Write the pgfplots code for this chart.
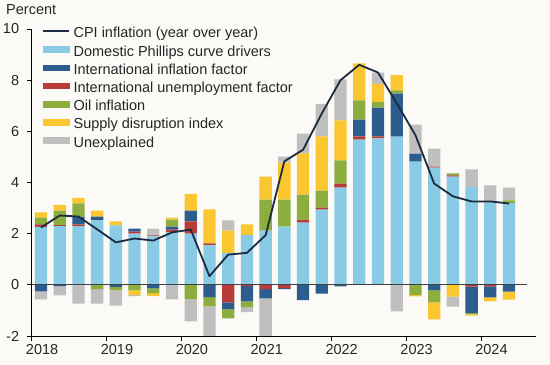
\documentclass[border=0pt]{standalone}
\usepackage{pgfplots}
\pgfplotsset{compat=1.18}
\usepackage{pgfplotstable}
\usepackage{fontspec}
\setmainfont{Liberation Sans}
\definecolor{dom}{HTML}{89CBE5}
\definecolor{iinf}{HTML}{2D5D8C}
\definecolor{iune}{HTML}{B73C37}
\definecolor{oil}{HTML}{8BAE3F}
\definecolor{sup}{HTML}{FCC630}
\definecolor{une}{HTML}{BFBFBF}
\definecolor{cpi}{HTML}{1B2B40}
\definecolor{bg}{HTML}{FBFAF6}
\definecolor{txt}{HTML}{262626}

\pgfplotstableread{
x dom iune iinf oil sup une
2018.125 2.27 0.09 0    0.27 0.20 0
2018.375 2.29 0.04 0    0.57 0.23 0
2018.625 2.29 0.07 0.31 0.51 0.22 0
2018.875 2.53 0    0.14 0    0.23 0
2019.125 2.32 0    0    0    0.16 0
2019.375 2.00 0.08 0.12 0    0    0
2019.625 1.89 0.04 0    0    0    0.27
2019.875 2.07 0.09 0.12 0.27 0.08 0
2020.125 2.00 0.48 0.42 0    0.66 0
2020.375 1.54 0.08 0    0    1.33 0
2020.625 1.25 0    0    0    0.87 0.40
2020.875 1.94 0    0    0    0.42 0
2021.125 2.12 0    0    1.21 0.90 0
2021.375 2.28 0    0    1.05 1.45 0.23
2021.625 2.43 0.12 0    0.98 1.61 0.77
2021.875 2.94 0.08 0    0.66 2.12 1.27
2022.125 3.80 0.16 0    0.90 1.57 1.60
2022.375 5.68 0.12 0.66 0.75 1.45 0
2022.625 5.72 0.08 1.13 0.22 0.70 0.44
2022.875 5.79 0    1.68 0.13 0.60 0
2023.125 4.82 0    0.31 0    0    1.13
2023.375 4.58 0.04 0    0    0    0.70
2023.625 4.23 0.05 0    0.08 0    0
2023.875 3.83 0    0    0    0    0.68
2024.125 3.22 0    0    0.05 0    0.62
2024.375 3.19 0    0    0.11 0    0.50
}\pos

\pgfplotstableread{
x iune iinf oil sup une
2018.125 0     -0.26 0     0     -0.31
2018.375 0     -0.05 0     0     -0.36
2018.625 0     0     0     0     -0.73
2018.875 0     0     -0.17 0     -0.56
2019.125 0     -0.08 -0.14 0     -0.59
2019.375 0     0     -0.22 -0.17 -0.05
2019.625 0     -0.14 -0.18 -0.12 0
2019.875 0     0     0     0     -0.57
2020.125 0     0     -0.57 0     -0.86
2020.375 0     -0.48 -0.36 0     -1.50
2020.625 -0.69 -0.27 -0.35 0     0
2020.875 -0.05 -0.60 -0.22 0     -0.20
2021.125 -0.17 -0.36 0     0     -1.50
2021.375 -0.13 -0.04 0     0     0
2021.625 0     -0.60 0     0     0
2021.875 0     -0.34 0     0     0
2022.125 0     -0.06 0     0     0
2022.375 0     0     0     0     0
2022.625 0     0     0     0     0
2022.875 0     0     0     0     -1.04
2023.125 0     0     -0.40 -0.05 0
2023.375 0     -0.22 -0.47 -0.66 0
2023.625 0     0     0     -0.46 -0.39
2023.875 -0.07 -1.03 -0.05 -0.05 0
2024.125 -0.06 -0.43 0     -0.16 0
2024.375 0     -0.27 0     -0.31 0
}\negs

\pgfplotstableread{
x cpi
2018.125 2.24
2018.375 2.71
2018.625 2.67
2018.875 2.17
2019.125 1.66
2019.375 1.81
2019.625 1.73
2019.875 2.05
2020.125 2.16
2020.375 0.34
2020.625 1.18
2020.875 1.25
2021.125 1.94
2021.375 4.83
2021.625 5.28
2021.875 6.70
2022.125 8.00
2022.375 8.60
2022.625 8.30
2022.875 7.10
2023.125 5.85
2023.375 3.96
2023.625 3.46
2023.875 3.26
2024.125 3.26
2024.375 3.18
}\cpitab

\pgfplotsset{
  geom/.style={scale only axis, width=504.4bp, height=307bp,
    xmin=2018, xmax=2024.735, ymin=-2, ymax=10,
    at={(0,0)}, anchor=south west},
  stk/.style={geom, hide axis, ybar stacked, bar width=12.3bp},
}
\newcommand{\fnt}{\fontsize{14.5bp}{17bp}\selectfont}

\begin{document}
\begin{tikzpicture}
\fill[bg] (-31.6bp,-29bp) rectangle (518.4bp,336bp);
\useasboundingbox (-31.6bp,-29bp) rectangle (518.4bp,336bp);

\begin{axis}[stk]
\addplot[fill=dom, draw=none] table[x=x,y=dom]{\pos};
\addplot[fill=iune, draw=none] table[x=x,y=iune]{\pos};
\addplot[fill=iinf, draw=none] table[x=x,y=iinf]{\pos};
\addplot[fill=oil, draw=none] table[x=x,y=oil]{\pos};
\addplot[fill=sup, draw=none] table[x=x,y=sup]{\pos};
\addplot[fill=une, draw=none] table[x=x,y=une]{\pos};
\end{axis}

\begin{axis}[stk]
\addplot[fill=iune, draw=none] table[x=x,y=iune]{\negs};
\addplot[fill=iinf, draw=none] table[x=x,y=iinf]{\negs};
\addplot[fill=oil, draw=none] table[x=x,y=oil]{\negs};
\addplot[fill=sup, draw=none] table[x=x,y=sup]{\negs};
\addplot[fill=une, draw=none] table[x=x,y=une]{\negs};
\end{axis}

\begin{axis}[geom,
  axis x line*=bottom, axis y line*=left,
  axis line style={-, black, line width=0.9bp},
  tick style={black, line width=0.8bp},
  tick align=outside, major tick length=4.5bp,
  xtick={2018,2019,2020,2021,2022,2023,2024},
  xticklabels={2018,2019,2020,2021,2022,2023,2024},
  ytick={-2,0,2,4,6,8,10},
  yticklabels={-2,0,2,4,6,8,10},
  ticklabel style={font=\fnt, text=txt},
  xticklabel style={xshift=10.5bp},
  yticklabel style={xshift=-4.5bp},
  legend cell align=left,
  legend style={at={(rel axis cs:0.0206,1.011)}, anchor=north west,
    draw=none, fill=none, inner sep=0pt, outer sep=0pt,
    font=\fnt, text=txt, row sep=0pt,
    nodes={inner sep=0pt, text height=12.2bp, text depth=6bp},
    /tikz/every odd column/.append style={column sep=4bp}},
]
\addlegendimage{legend image code/.code={\draw[cpi, line width=1.6bp] (0bp,3.5bp) -- (26bp,3.5bp);}}
\addlegendentry{CPI inflation (year over year)}
\addlegendimage{legend image code/.code={\fill[dom] (0bp,0.7bp) rectangle (26bp,6.3bp);}}
\addlegendentry{Domestic Phillips curve drivers}
\addlegendimage{legend image code/.code={\fill[iinf] (0bp,0.7bp) rectangle (26bp,6.3bp);}}
\addlegendentry{International inflation factor}
\addlegendimage{legend image code/.code={\fill[iune] (0bp,0.7bp) rectangle (26bp,6.3bp);}}
\addlegendentry{International unemployment factor}
\addlegendimage{legend image code/.code={\fill[oil] (0bp,0.7bp) rectangle (26bp,6.3bp);}}
\addlegendentry{Oil inflation}
\addlegendimage{legend image code/.code={\fill[sup] (0bp,0.7bp) rectangle (26bp,6.3bp);}}
\addlegendentry{Supply disruption index}
\addlegendimage{legend image code/.code={\fill[une] (0bp,0.7bp) rectangle (26bp,6.3bp);}}
\addlegendentry{Unexplained}
\addplot[forget plot, draw=black!75, line width=0.9bp] coordinates {(2018,0) (2024.62,0)};
\addplot[forget plot, cpi, line width=1.8bp, line join=round, mark=none] table[x=x,y=cpi]{\cpitab};
\end{axis}
\node[anchor=base west, inner sep=0pt, font=\fnt, text=txt] at (-25.6bp,321bp) {Percent};
\end{tikzpicture}
\end{document}
